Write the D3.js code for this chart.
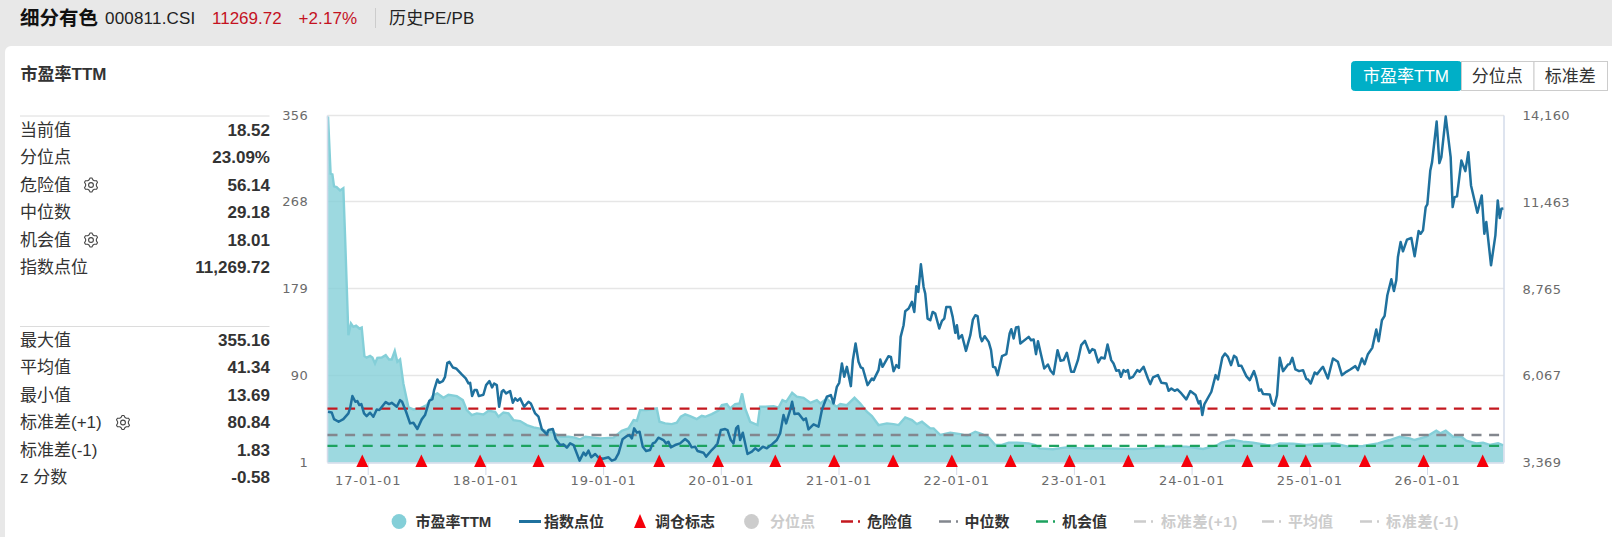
<!DOCTYPE html>
<html lang="zh"><head><meta charset="utf-8">
<script src="https://cdn.jsdelivr.net/npm/d3@7/dist/d3.min.js"></script>
<style>
html,body{margin:0;padding:0;background:#e8e8e8;overflow:hidden}
svg{display:block}
text{font-family:"Liberation Sans","Noto Sans CJK SC",sans-serif}
.ax text{font-family:"DejaVu Sans","Noto Sans CJK SC",sans-serif;font-size:13px;fill:#6b6b6b;letter-spacing:.3px}
</style></head><body>
<script>
const idxYears=[2016.663,2016.694,2016.714,2016.753,2016.793,2016.836,2016.850,2016.870,2016.895,2016.912,2016.929,2016.946,2016.969,2016.991,2017.020,2017.048,2017.077,2017.099,2017.153,2017.181,2017.204,2017.247,2017.275,2017.292,2017.326,2017.360,2017.388,2017.422,2017.459,2017.487,2017.524,2017.550,2017.564,2017.592,2017.609,2017.638,2017.657,2017.677,2017.694,2017.723,2017.751,2017.799,2017.833,2017.856,2017.870,2017.887,2017.907,2017.927,2017.944,2017.983,2018.006,2018.034,2018.057,2018.074,2018.097,2018.117,2018.139,2018.153,2018.176,2018.210,2018.233,2018.253,2018.272,2018.295,2018.329,2018.366,2018.386,2018.423,2018.451,2018.479,2018.522,2018.536,2018.573,2018.598,2018.635,2018.663,2018.692,2018.720,2018.749,2018.800,2018.834,2018.853,2018.876,2018.899,2018.933,2018.961,2018.998,2019.046,2019.074,2019.103,2019.131,2019.165,2019.202,2019.222,2019.245,2019.264,2019.287,2019.310,2019.337,2019.365,2019.399,2019.422,2019.442,2019.470,2019.513,2019.535,2019.555,2019.575,2019.612,2019.654,2019.697,2019.725,2019.753,2019.782,2019.802,2019.853,2019.875,2019.923,2019.952,2019.972,2020.000,2020.037,2020.057,2020.085,2020.108,2020.130,2020.147,2020.164,2020.187,2020.227,2020.264,2020.292,2020.320,2020.357,2020.391,2020.434,2020.476,2020.504,2020.533,2020.555,2020.589,2020.606,2020.626,2020.660,2020.703,2020.723,2020.745,2020.788,2020.830,2020.859,2020.879,2020.901,2020.935,2020.958,2020.986,2021.006,2021.029,2021.049,2021.071,2021.105,2021.122,2021.145,2021.170,2021.190,2021.207,2021.247,2021.284,2021.298,2021.340,2021.355,2021.374,2021.425,2021.445,2021.468,2021.491,2021.513,2021.528,2021.553,2021.567,2021.596,2021.624,2021.644,2021.661,2021.678,2021.700,2021.723,2021.737,2021.757,2021.780,2021.800,2021.822,2021.856,2021.879,2021.899,2021.916,2021.950,2021.970,2021.992,2022.006,2022.021,2022.049,2022.083,2022.120,2022.142,2022.162,2022.182,2022.205,2022.219,2022.242,2022.276,2022.296,2022.313,2022.332,2022.352,2022.389,2022.426,2022.454,2022.468,2022.488,2022.508,2022.528,2022.545,2022.616,2022.636,2022.658,2022.678,2022.695,2022.722,2022.748,2022.779,2022.802,2022.827,2022.861,2022.887,2022.912,2022.940,2022.977,2023.000,2023.034,2023.062,2023.094,2023.133,2023.156,2023.176,2023.207,2023.232,2023.261,2023.286,2023.317,2023.337,2023.360,2023.383,2023.400,2023.422,2023.439,2023.459,2023.473,2023.502,2023.538,2023.558,2023.592,2023.629,2023.649,2023.672,2023.714,2023.743,2023.785,2023.805,2023.828,2023.856,2023.879,2023.913,2023.955,2023.989,2024.034,2024.060,2024.074,2024.091,2024.108,2024.168,2024.204,2024.224,2024.261,2024.284,2024.309,2024.335,2024.360,2024.380,2024.400,2024.423,2024.465,2024.494,2024.530,2024.550,2024.573,2024.590,2024.607,2024.664,2024.683,2024.703,2024.726,2024.749,2024.777,2024.819,2024.834,2024.856,2024.882,2024.913,2024.947,2024.975,2024.989,2025.012,2025.046,2025.066,2025.103,2025.116,2025.158,2025.201,2025.243,2025.277,2025.314,2025.348,2025.391,2025.413,2025.447,2025.470,2025.498,2025.535,2025.569,2025.589,2025.617,2025.640,2025.663,2025.697,2025.719,2025.739,2025.753,2025.776,2025.796,2025.830,2025.867,2025.895,2025.929,2025.946,2025.966,2025.989,2026.003,2026.028,2026.043,2026.082,2026.105,2026.122,2026.159,2026.201,2026.218,2026.235,2026.255,2026.292,2026.326,2026.351,2026.374,2026.428,2026.465,2026.487,2026.504,2026.544,2026.581,2026.601,2026.618,2026.632,2026.649];
const idxValues=[4948,4927,4720,4637,4720,4896,5051,5434,5258,5279,5155,5186,4896,4813,4917,4792,5020,4999,5248,5186,5227,5103,5310,5258,4948,4585,4606,4410,4710,4844,5289,5341,5620,5952,5848,5900,6034,6469,6500,6324,6293,6107,5983,5827,5848,5434,5620,5620,5434,5476,5776,5900,5703,5827,5776,5103,5569,5620,5517,5589,5227,5362,5289,5362,5103,5258,5206,4896,4792,4410,4244,4378,4410,4089,3913,3933,3830,3964,3913,3426,3675,3592,3737,3530,3633,3519,3488,3530,3426,3468,3654,4089,4192,4223,4120,4430,4296,4327,3860,3726,3757,3964,3995,4140,4067,3964,4016,3840,3912,3964,4099,4016,3840,3860,3726,3674,3550,3757,3860,3964,4378,4409,4378,4067,3964,4430,4502,4067,4295,3633,3705,3809,3736,3860,3809,3933,4067,4274,4844,4585,4999,5258,4875,4895,4688,4740,4399,4554,4481,4999,5206,5413,5465,5206,5723,5848,6448,6034,6344,5744,6551,7069,6500,6324,6293,5775,5982,5930,6241,6572,6344,6676,6655,6210,6396,6313,7276,7638,8073,8156,8363,8052,8849,8673,9532,8828,8621,7845,7793,8052,8000,7535,7773,7845,8207,8207,7897,7400,7638,7224,7328,6841,7328,7814,7949,7918,7276,7141,7297,7121,6862,6344,6324,6086,6676,6738,7379,7514,7224,7566,7586,7069,7276,7172,7193,6738,7141,6707,6293,6417,6221,6117,6862,6531,6552,6780,6190,6190,6552,7018,7152,6780,6894,6862,6480,6635,6604,7038,6552,6448,6221,6241,6034,6241,6190,6241,5983,6034,6241,6190,6345,5983,5807,6014,6086,5848,5827,5600,5672,5600,5641,5517,5331,5589,5465,5206,5279,4844,5175,5569,6086,5952,6635,6759,6655,6397,6687,6635,6376,6376,6055,5931,6210,5983,5600,5641,5496,5486,5206,5134,5465,6624,6210,6417,6428,6624,6262,6210,6241,5962,5952,5827,6169,6117,6293,6344,5982,6603,6500,6086,6189,6262,6365,6241,6603,6427,6738,6934,7504,7141,7793,7928,8570,9067,8704,9035,9760,10226,9936,10298,10350,9781,10567,10484,10588,11312,11395,12451,12710,13972,12679,12865,14128,12865,11312,11623,11644,12761,12430,13020,11985,11137,11675,10484,10847,9501,10433,11519,10971,11261,11270];

const peYears=[2016.663,2016.685,2016.700,2016.714,2016.736,2016.765,2016.793,2016.807,2016.836,2016.858,2016.878,2016.901,2016.929,2016.949,2016.972,2016.991,2017.020,2017.040,2017.062,2017.082,2017.119,2017.153,2017.181,2017.204,2017.230,2017.252,2017.275,2017.303,2017.346,2017.388,2017.445,2017.502,2017.558,2017.592,2017.643,2017.686,2017.757,2017.808,2017.842,2017.884,2017.927,2017.983,2018.026,2018.083,2018.111,2018.153,2018.196,2018.238,2018.295,2018.352,2018.409,2018.465,2018.522,2018.579,2018.635,2018.706,2018.749,2018.805,2018.848,2018.919,2018.975,2019.089,2019.159,2019.216,2019.259,2019.287,2019.314,2019.371,2019.456,2019.479,2019.527,2019.583,2019.626,2019.660,2019.697,2019.739,2019.796,2019.838,2019.867,2019.923,2019.980,2020.009,2020.051,2020.079,2020.122,2020.159,2020.181,2020.207,2020.249,2020.312,2020.334,2020.377,2020.448,2020.490,2020.524,2020.555,2020.606,2020.646,2020.703,2020.760,2020.816,2020.845,2020.901,2020.944,2020.986,2021.015,2021.071,2021.136,2021.185,2021.241,2021.284,2021.340,2021.411,2021.468,2021.511,2021.567,2021.624,2021.666,2021.709,2021.780,2021.808,2021.865,2021.950,2022.035,2022.092,2022.162,2022.219,2022.276,2022.332,2022.389,2022.446,2022.517,2022.616,2022.672,2022.708,2022.821,2022.935,2023.077,2023.275,2023.502,2023.643,2023.785,2023.955,2024.097,2024.210,2024.253,2024.352,2024.437,2024.522,2024.635,2024.692,2024.749,2024.862,2024.975,2025.087,2025.215,2025.328,2025.456,2025.583,2025.683,2025.768,2025.853,2025.895,2025.994,2026.079,2026.113,2026.159,2026.221,2026.292,2026.334,2026.419,2026.476,2026.533,2026.604,2026.649];
const peValues=[355,296.4,295.7,283.5,282.8,279.4,281.7,235,131.2,143.2,139.8,141.1,138.1,139.1,109.8,108.4,110.1,108.4,102.3,108.1,108.4,110.8,106.4,106.4,115.2,104,106.4,81.9,57.4,55.3,56.3,59.7,70,71.7,67.2,70.3,68.9,64.8,54.6,49.5,51.2,50.2,54,52.9,47.8,52.2,51.2,44.4,43.4,39.3,36.9,35.6,32.5,31.5,27.4,27.4,26.7,24.7,27.4,26.4,25.7,26.4,33.5,35.9,44.4,43.7,54.6,54.6,56.3,42.7,41,40.3,41.7,47.8,50.2,48.5,45.4,48.8,47.8,50.5,54,59.7,60.8,56.3,60.8,61.4,71.7,56.3,42.7,39.3,58,58,58.7,57,64.8,63.1,72.3,68.3,67.2,62.1,64.8,61.4,66.5,61.4,58,60.8,59.7,67.2,61.4,52.9,48.5,39.3,41,40.3,39.3,47.1,44.4,40.3,42.7,35.9,35.9,29.1,31.5,30.1,28.1,32.5,30.1,26.7,18.9,18.9,21.3,21.3,20.6,18.9,15.5,14.5,16.5,15.5,15.5,14.8,15.5,17.2,17.2,14.8,18.2,21.3,24,22.3,21.3,18.9,18.2,20.6,20.2,18.9,19.9,20.6,17.2,17.9,20.6,24,27.4,25.7,24,27.4,33.5,30.8,33.5,27.4,27.4,23.3,20.6,21.3,18.9,20.6,18.52];

const rebalanceYears=[2016.954,2017.456,2017.955,2018.451,2018.973,2019.477,2019.976,2020.463,2020.963,2021.464,2021.963,2022.462,2022.963,2023.463,2023.961,2024.474,2024.781,2024.970,2025.472,2025.971,2026.473];
const yearTicks=[2017,2018,2019,2020,2021,2022,2023,2024,2025,2026];
const yearLabels=["17-01-01","18-01-01","19-01-01","20-01-01","21-01-01","22-01-01","23-01-01","24-01-01","25-01-01","26-01-01"];
const peTicks=[1,90,179,268,356];
const idxTicks=[3369,6067,8765,11463,14160];
const refNames=["危险值","中位数","机会值"];
const refValues=[56.14,29.18,18.01];
const refColors=["#c4181f","#83878e","#1ca25f"];
const statsTop=[["当前值","18.52"],["分位点","23.09%"],["危险值","56.14"],["中位数","29.18"],["机会值","18.01"],["指数点位","11,269.72"]];
const statsBottom=[["最大值","355.16"],["平均值","41.34"],["最小值","13.69"],["标准差(+1)","80.84"],["标准差(-1)","1.83"],["z 分数","-0.58"]];
const tabs=["市盈率TTM","分位点","标准差"];

const W=1612,H=537,L=327.5,R=1504,T=115.5,B=462.5;
const svg=d3.select("body").append("svg").attr("width",W).attr("height",H);
svg.append("rect").attr("x",5).attr("y",46).attr("width",W+20).attr("height",H).attr("rx",6).attr("fill","#fff");

// header
function txt(x,y,s,size,fill,weight,anchor,ls){
  return svg.append("text").attr("x",x).attr("y",y).attr("dominant-baseline","central")
    .attr("font-size",size).attr("fill",fill||"#222").attr("font-weight",weight||"normal")
    .attr("letter-spacing",ls||0).attr("text-anchor",anchor||"start").text(s);
}
txt(20,18,"细分有色",19.5,"#111","bold");
txt(105,18,"000811.CSI",17,"#222","normal","start",.2);
txt(212,18,"11269.72",17,"#c4121f");
txt(298.5,18,"+2.17%",17,"#c4121f","normal","start",.1);
svg.append("line").attr("x1",375.5).attr("x2",375.5).attr("y1",8).attr("y2",28).attr("stroke","#ccc");
txt(389,18,"历史PE/PB",17,"#222","normal","start",.2);
txt(20.5,74,"市盈率TTM",17,"#333","bold");

// stats tables
const gearRows={"危险值":91,"机会值":91,"标准差(+1)":123};
function gear(cx,cy){
  const g=svg.append("g").attr("transform",`translate(${cx},${cy})`);
  const pts=d3.range(24).map(i=>{const a=i/24*2*Math.PI+Math.PI/24,r=(Math.floor((i+1)/2)%2)?7:5.4;return [r*Math.cos(a),r*Math.sin(a)];});
  g.append("path").attr("d",d3.line().curve(d3.curveLinearClosed)(pts)).attr("fill","none").attr("stroke","#444").attr("stroke-width",1.1);
  g.append("circle").attr("r",2.4).attr("fill","none").attr("stroke","#444").attr("stroke-width",1.1);
}
function table(rows,lineY,ys){
  svg.append("line").attr("x1",20).attr("x2",269.5).attr("y1",lineY).attr("y2",lineY).attr("stroke","#dcdcdc");
  rows.forEach((r,i)=>{
    txt(20,ys[i],r[0],17,"#333");
    txt(270,ys[i],r[1],17,"#333","bold","end");
    if(gearRows[r[0]]) gear(gearRows[r[0]],ys[i]);
  });
}
table(statsTop,116,[130,157.5,185,212.5,240,267]);
table(statsBottom,326.5,[340.5,367.5,395,422.5,450,477.5]);

// tabs
const tabX=[1351,1461,1533.5,1607];
tabs.forEach((t,i)=>{
  svg.append("rect").attr("x",tabX[i]+.5).attr("y",61.5).attr("width",tabX[i+1]-tabX[i]).attr("height",29)
    .attr("rx",i==0?3:0).attr("fill",i==0?"#00afc7":"#fff").attr("stroke",i==0?"#00afc7":"#ccc");
  txt((tabX[i]+tabX[i+1])/2,76,t,17,i==0?"#fff":"#333","normal","middle");
});

// scales
const x=d3.scaleLinear().domain([2017,2026]).range([367.7,1427]);
const yPE=d3.scaleLinear().domain([1,356]).range([B,T]);
const yIdx=d3.scaleLinear().domain([3369,14160]).range([B,T]);

// grid
svg.append("g").selectAll("line").data(peTicks.slice(1)).join("line")
  .attr("x1",L).attr("x2",R).attr("y1",d=>yPE(d)).attr("y2",d=>yPE(d))
  .attr("stroke","#e6e6e6").attr("stroke-width",1.6);

// PE area + line
const pe=peYears.map((t,i)=>[t,peValues[i]]);
svg.append("path").datum(pe)
  .attr("d",d3.area().x(d=>x(d[0])).y0(yPE(1)).y1(d=>yPE(d[1])))
  .attr("fill","#84cfd8").attr("fill-opacity",.8);
svg.append("path").datum(pe)
  .attr("d",d3.line().x(d=>x(d[0])).y(d=>yPE(d[1])))
  .attr("fill","none").attr("stroke","#84cfd8").attr("stroke-width",2.4);

// axes
const axisC="#d3dbea";
svg.append("line").attr("x1",L).attr("x2",L).attr("y1",T).attr("y2",B).attr("stroke",axisC).attr("stroke-width",1.5);
svg.append("line").attr("x1",R).attr("x2",R).attr("y1",T).attr("y2",B).attr("stroke",axisC).attr("stroke-width",1.5);
svg.append("line").attr("x1",L).attr("x2",R).attr("y1",B+.5).attr("y2",B+.5).attr("stroke",axisC).attr("stroke-width",1.5);

const gl=svg.append("g").attr("class","ax").attr("transform",`translate(${L-19.5},0)`)
  .call(d3.axisLeft(yPE).tickValues(peTicks).tickSize(0).tickPadding(0).tickFormat(d3.format("d")));
gl.select(".domain").remove();
const gr=svg.append("g").attr("class","ax").attr("transform",`translate(1522.5,0)`)
  .call(d3.axisRight(yIdx).tickValues(idxTicks).tickSize(0).tickPadding(0).tickFormat(d3.format(",")));
gr.select(".domain").remove();
const gb=svg.append("g").attr("class","ax").attr("transform",`translate(0,${B+.5})`)
  .call(d3.axisBottom(x).tickValues(yearTicks).tickSize(12).tickPadding(0).tickFormat((d,i)=>yearLabels[i]));
gb.select(".domain").remove();
gb.selectAll("line").attr("stroke",axisC);
gb.selectAll("text").style("letter-spacing",".9px").attr("dy",0).attr("y",12.5).attr("dominant-baseline","hanging");

// reference lines
refValues.forEach((v,i)=>{
  svg.append("line").attr("x1",L).attr("x2",R).attr("y1",yPE(v)).attr("y2",yPE(v))
    .attr("stroke",refColors[i]).attr("stroke-width",2.4).attr("stroke-dasharray","10 7.6");
});

// index line
svg.append("path").datum(idxYears.map((t,i)=>[t,idxValues[i]]))
  .attr("d",d3.line().x(d=>x(d[0])).y(d=>yIdx(d[1])))
  .attr("fill","none").attr("stroke","#1f719e").attr("stroke-width",2.5).attr("stroke-linejoin","round");

// rebalance markers
svg.append("g").selectAll("path").data(rebalanceYears).join("path")
  .attr("d",d=>{const c=x(d);return `M${c-6},467L${c},454.5L${c+6},467Z`;})
  .attr("fill","#f5000b");

// legend
const LY=521.5;
function legendText(x0,s,c,ls){svg.append("text").attr("x",x0).attr("y",LY).attr("dominant-baseline","central").attr("font-size",15).attr("font-weight","bold").attr("letter-spacing",ls||0).attr("fill",c).text(s);}
function legendLine(x0,c){svg.append("line").attr("x1",x0).attr("x2",x0+21).attr("y1",LY).attr("y2",LY).attr("stroke",c).attr("stroke-width",2.5).attr("stroke-dasharray","12 5 2 5");}
svg.append("circle").attr("cx",399).attr("cy",LY).attr("r",7.4).attr("fill","#84cfd8");
legendText(415.5,"市盈率TTM","#333");
svg.append("line").attr("x1",519).attr("x2",541).attr("y1",LY).attr("y2",LY).attr("stroke","#1f719e").attr("stroke-width",3);
legendText(544,"指数点位","#333");
svg.append("path").attr("d",`M634,528L640,514L646,528Z`).attr("fill","#f5000b");
legendText(655,"调仓标志","#333");
svg.append("circle").attr("cx",751.5).attr("cy",LY).attr("r",7.4).attr("fill","#ccc");
legendText(770,"分位点","#ccc");
[[841,867],[939,964.5],[1036,1062]].forEach((p,i)=>{legendLine(p[0],refColors[i]);legendText(p[1],refNames[i],"#333");});
[[1134,1161,"标准差(+1)",.7],[1262,1288,"平均值",0],[1360,1386,"标准差(-1)",.7]].forEach(p=>{legendLine(p[0],"#ccc");legendText(p[1],p[2],"#ccc",p[3]);});
</script>
</body></html>
